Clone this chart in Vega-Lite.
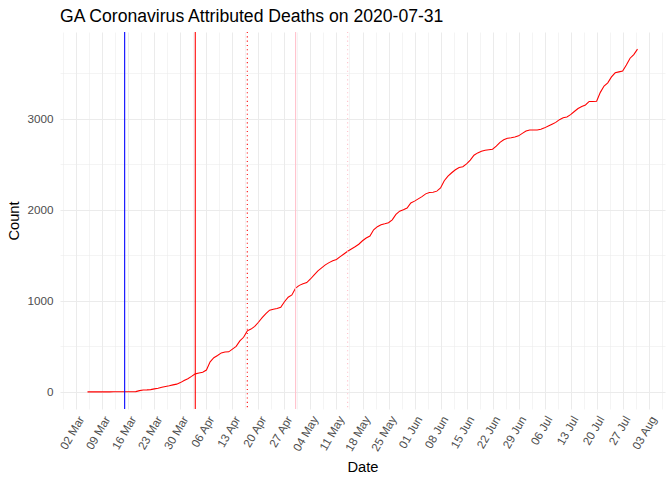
{
  "$schema": "https://vega.github.io/schema/vega-lite/v6.json",
  "width": 605,
  "height": 377,
  "autosize": "none",
  "padding": {"left": 60, "top": 32, "right": 7, "bottom": 71},
  "title": {"text": "GA Coronavirus Attributed Deaths on 2020-07-31", "anchor": "start", "frame": "group", "fontSize": 17.6, "fontWeight": "normal", "color": "#000000", "offset": 6, "font": "Liberation Sans"},
  "config": {
    "view": {"stroke": null},
    "font": "Liberation Sans",
    "axis": {"domain": false, "ticks": false, "labelColor": "#4D4D4D", "labelFontSize": 11.7, "titleColor": "#000000", "titleFontSize": 14.7, "titleFontWeight": "normal", "gridColor": "#EBEBEB", "labelOverlap": false, "labelFlush": false}
  },
  "encoding": {
    "x": {
      "field": "date", "type": "temporal", "title": "Date",
      "scale": {"type": "utc", "domain": [{"year": 2020, "month": 2, "date": 26, "hours": 14, "minutes": 24, "utc": true}, {"year": 2020, "month": 8, "date": 7, "hours": 9, "minutes": 36, "utc": true}], "nice": false},
      "axis": {
        "format": "%d %b", "labelAngle": -60, "labelAlign": "right", "labelBaseline": "top", "labelPadding": 5, "titlePadding": 6,
        "labelExpr": "utchours(datum.value) == 12 ? '' : datum.label",
        "gridWidth": {"condition": {"test": "utchours(datum.value) == 12", "value": 0.55}, "value": 1.07},
        "values": [
          {"year": 2020, "month": 2, "date": 27, "hours": 12, "utc": true},
          {"year": 2020, "month": 3, "date": 2, "utc": true},
          {"year": 2020, "month": 3, "date": 5, "hours": 12, "utc": true},
          {"year": 2020, "month": 3, "date": 9, "utc": true},
          {"year": 2020, "month": 3, "date": 12, "hours": 12, "utc": true},
          {"year": 2020, "month": 3, "date": 16, "utc": true},
          {"year": 2020, "month": 3, "date": 19, "hours": 12, "utc": true},
          {"year": 2020, "month": 3, "date": 23, "utc": true},
          {"year": 2020, "month": 3, "date": 26, "hours": 12, "utc": true},
          {"year": 2020, "month": 3, "date": 30, "utc": true},
          {"year": 2020, "month": 4, "date": 2, "hours": 12, "utc": true},
          {"year": 2020, "month": 4, "date": 6, "utc": true},
          {"year": 2020, "month": 4, "date": 9, "hours": 12, "utc": true},
          {"year": 2020, "month": 4, "date": 13, "utc": true},
          {"year": 2020, "month": 4, "date": 16, "hours": 12, "utc": true},
          {"year": 2020, "month": 4, "date": 20, "utc": true},
          {"year": 2020, "month": 4, "date": 23, "hours": 12, "utc": true},
          {"year": 2020, "month": 4, "date": 27, "utc": true},
          {"year": 2020, "month": 4, "date": 30, "hours": 12, "utc": true},
          {"year": 2020, "month": 5, "date": 4, "utc": true},
          {"year": 2020, "month": 5, "date": 7, "hours": 12, "utc": true},
          {"year": 2020, "month": 5, "date": 11, "utc": true},
          {"year": 2020, "month": 5, "date": 14, "hours": 12, "utc": true},
          {"year": 2020, "month": 5, "date": 18, "utc": true},
          {"year": 2020, "month": 5, "date": 21, "hours": 12, "utc": true},
          {"year": 2020, "month": 5, "date": 25, "utc": true},
          {"year": 2020, "month": 5, "date": 28, "hours": 12, "utc": true},
          {"year": 2020, "month": 6, "date": 1, "utc": true},
          {"year": 2020, "month": 6, "date": 4, "hours": 12, "utc": true},
          {"year": 2020, "month": 6, "date": 8, "utc": true},
          {"year": 2020, "month": 6, "date": 11, "hours": 12, "utc": true},
          {"year": 2020, "month": 6, "date": 15, "utc": true},
          {"year": 2020, "month": 6, "date": 18, "hours": 12, "utc": true},
          {"year": 2020, "month": 6, "date": 22, "utc": true},
          {"year": 2020, "month": 6, "date": 25, "hours": 12, "utc": true},
          {"year": 2020, "month": 6, "date": 29, "utc": true},
          {"year": 2020, "month": 7, "date": 2, "hours": 12, "utc": true},
          {"year": 2020, "month": 7, "date": 6, "utc": true},
          {"year": 2020, "month": 7, "date": 9, "hours": 12, "utc": true},
          {"year": 2020, "month": 7, "date": 13, "utc": true},
          {"year": 2020, "month": 7, "date": 16, "hours": 12, "utc": true},
          {"year": 2020, "month": 7, "date": 20, "utc": true},
          {"year": 2020, "month": 7, "date": 23, "hours": 12, "utc": true},
          {"year": 2020, "month": 7, "date": 27, "utc": true},
          {"year": 2020, "month": 7, "date": 30, "hours": 12, "utc": true},
          {"year": 2020, "month": 8, "date": 3, "utc": true},
          {"year": 2020, "month": 8, "date": 6, "hours": 12, "utc": true}
        ]
      }
    }
  },
  "layer": [
    {
      "data": {"values": [
        {"date": "2020-03-05", "count": 0}, {"date": "2020-03-06", "count": 0}, {"date": "2020-03-07", "count": 0}, {"date": "2020-03-08", "count": 0},
        {"date": "2020-03-09", "count": 0}, {"date": "2020-03-10", "count": 0}, {"date": "2020-03-11", "count": 0}, {"date": "2020-03-12", "count": 1},
        {"date": "2020-03-13", "count": 1}, {"date": "2020-03-14", "count": 1}, {"date": "2020-03-15", "count": 1}, {"date": "2020-03-16", "count": 1},
        {"date": "2020-03-17", "count": 2}, {"date": "2020-03-18", "count": 3}, {"date": "2020-03-19", "count": 14}, {"date": "2020-03-20", "count": 20},
        {"date": "2020-03-21", "count": 22}, {"date": "2020-03-22", "count": 25}, {"date": "2020-03-23", "count": 33}, {"date": "2020-03-24", "count": 40},
        {"date": "2020-03-25", "count": 50}, {"date": "2020-03-26", "count": 60}, {"date": "2020-03-27", "count": 68}, {"date": "2020-03-28", "count": 77},
        {"date": "2020-03-29", "count": 85}, {"date": "2020-03-30", "count": 102}, {"date": "2020-03-31", "count": 125}, {"date": "2020-04-01", "count": 145},
        {"date": "2020-04-02", "count": 170}, {"date": "2020-04-03", "count": 198}, {"date": "2020-04-04", "count": 207}, {"date": "2020-04-05", "count": 215},
        {"date": "2020-04-06", "count": 240}, {"date": "2020-04-07", "count": 330}, {"date": "2020-04-08", "count": 375}, {"date": "2020-04-09", "count": 400},
        {"date": "2020-04-10", "count": 428}, {"date": "2020-04-11", "count": 438}, {"date": "2020-04-12", "count": 440}, {"date": "2020-04-13", "count": 470},
        {"date": "2020-04-14", "count": 500}, {"date": "2020-04-15", "count": 560}, {"date": "2020-04-16", "count": 600}, {"date": "2020-04-17", "count": 670},
        {"date": "2020-04-18", "count": 690}, {"date": "2020-04-19", "count": 720}, {"date": "2020-04-20", "count": 765}, {"date": "2020-04-21", "count": 815},
        {"date": "2020-04-22", "count": 860}, {"date": "2020-04-23", "count": 897}, {"date": "2020-04-24", "count": 908}, {"date": "2020-04-25", "count": 915},
        {"date": "2020-04-26", "count": 930}, {"date": "2020-04-27", "count": 990}, {"date": "2020-04-28", "count": 1040}, {"date": "2020-04-29", "count": 1065},
        {"date": "2020-04-30", "count": 1140}, {"date": "2020-05-01", "count": 1170}, {"date": "2020-05-02", "count": 1188}, {"date": "2020-05-03", "count": 1200},
        {"date": "2020-05-04", "count": 1240}, {"date": "2020-05-05", "count": 1285}, {"date": "2020-05-06", "count": 1330}, {"date": "2020-05-07", "count": 1363},
        {"date": "2020-05-08", "count": 1395}, {"date": "2020-05-09", "count": 1420}, {"date": "2020-05-10", "count": 1440}, {"date": "2020-05-11", "count": 1454},
        {"date": "2020-05-12", "count": 1485}, {"date": "2020-05-13", "count": 1515}, {"date": "2020-05-14", "count": 1545}, {"date": "2020-05-15", "count": 1570},
        {"date": "2020-05-16", "count": 1595}, {"date": "2020-05-17", "count": 1622}, {"date": "2020-05-18", "count": 1660}, {"date": "2020-05-19", "count": 1690},
        {"date": "2020-05-20", "count": 1712}, {"date": "2020-05-21", "count": 1780}, {"date": "2020-05-22", "count": 1815}, {"date": "2020-05-23", "count": 1835},
        {"date": "2020-05-24", "count": 1846}, {"date": "2020-05-25", "count": 1858}, {"date": "2020-05-26", "count": 1890}, {"date": "2020-05-27", "count": 1950},
        {"date": "2020-05-28", "count": 1985}, {"date": "2020-05-29", "count": 2000}, {"date": "2020-05-30", "count": 2020}, {"date": "2020-05-31", "count": 2075},
        {"date": "2020-06-01", "count": 2095}, {"date": "2020-06-02", "count": 2120}, {"date": "2020-06-03", "count": 2145}, {"date": "2020-06-04", "count": 2175},
        {"date": "2020-06-05", "count": 2190}, {"date": "2020-06-06", "count": 2193}, {"date": "2020-06-07", "count": 2205}, {"date": "2020-06-08", "count": 2240},
        {"date": "2020-06-09", "count": 2320}, {"date": "2020-06-10", "count": 2370}, {"date": "2020-06-11", "count": 2407}, {"date": "2020-06-12", "count": 2440},
        {"date": "2020-06-13", "count": 2465}, {"date": "2020-06-14", "count": 2473}, {"date": "2020-06-15", "count": 2505}, {"date": "2020-06-16", "count": 2545},
        {"date": "2020-06-17", "count": 2600}, {"date": "2020-06-18", "count": 2625}, {"date": "2020-06-19", "count": 2644}, {"date": "2020-06-20", "count": 2655},
        {"date": "2020-06-21", "count": 2660}, {"date": "2020-06-22", "count": 2665}, {"date": "2020-06-23", "count": 2700}, {"date": "2020-06-24", "count": 2740},
        {"date": "2020-06-25", "count": 2770}, {"date": "2020-06-26", "count": 2785}, {"date": "2020-06-27", "count": 2791}, {"date": "2020-06-28", "count": 2800},
        {"date": "2020-06-29", "count": 2812}, {"date": "2020-06-30", "count": 2840}, {"date": "2020-07-01", "count": 2865}, {"date": "2020-07-02", "count": 2876},
        {"date": "2020-07-03", "count": 2876}, {"date": "2020-07-04", "count": 2876}, {"date": "2020-07-05", "count": 2885}, {"date": "2020-07-06", "count": 2900},
        {"date": "2020-07-07", "count": 2920}, {"date": "2020-07-08", "count": 2940}, {"date": "2020-07-09", "count": 2960}, {"date": "2020-07-10", "count": 2990},
        {"date": "2020-07-11", "count": 3010}, {"date": "2020-07-12", "count": 3020}, {"date": "2020-07-13", "count": 3045}, {"date": "2020-07-14", "count": 3080},
        {"date": "2020-07-15", "count": 3112}, {"date": "2020-07-16", "count": 3135}, {"date": "2020-07-17", "count": 3152}, {"date": "2020-07-18", "count": 3190},
        {"date": "2020-07-19", "count": 3190}, {"date": "2020-07-20", "count": 3192}, {"date": "2020-07-21", "count": 3290}, {"date": "2020-07-22", "count": 3360},
        {"date": "2020-07-23", "count": 3395}, {"date": "2020-07-24", "count": 3460}, {"date": "2020-07-25", "count": 3505}, {"date": "2020-07-26", "count": 3515},
        {"date": "2020-07-27", "count": 3525}, {"date": "2020-07-28", "count": 3590}, {"date": "2020-07-29", "count": 3665}, {"date": "2020-07-30", "count": 3705},
        {"date": "2020-07-31", "count": 3765}
      ]},
      "mark": {"type": "line", "color": "#FF0000", "strokeWidth": 1.07},
      "encoding": {
        "y": {
          "field": "count", "type": "quantitative", "title": "Count",
          "scale": {"domain": [-188, 3953], "nice": false, "zero": false},
          "axis": {
            "values": [0, 500, 1000, 1500, 2000, 2500, 3000, 3500],
            "labelExpr": "datum.value % 1000 == 0 ? datum.label : ''",
            "format": "d",
            "labelPadding": 7, "titlePadding": 5,
            "gridWidth": {"condition": {"test": "datum.value % 1000 != 0", "value": 0.55}, "value": 1.07}
          }
        }
      }
    },
    {
      "data": {"values": [
        {"date": "2020-03-15", "event": "Emergency"},
        {"date": "2020-04-03", "event": "Shelter"},
        {"date": "2020-04-17", "event": "Shelter + 14"},
        {"date": "2020-04-30", "event": "Reopen"},
        {"date": "2020-05-14", "event": "Reopen + 14"}
      ]},
      "mark": {"type": "rule", "strokeWidth": 1.07},
      "encoding": {
        "color": {"field": "event", "type": "nominal", "legend": null,
          "scale": {"domain": ["Emergency", "Shelter", "Shelter + 14", "Reopen", "Reopen + 14"], "range": ["#0000FF", "#FF0000", "#FF0000", "#FFC0CB", "#FFC0CB"]}},
        "strokeDash": {"field": "event", "type": "nominal", "legend": null,
          "scale": {"domain": ["Emergency", "Shelter", "Shelter + 14", "Reopen", "Reopen + 14"], "range": [[1, 0], [1, 0], [1.1, 3.2], [1, 0], [1.1, 3.2]]}}
      }
    }
  ]
}
